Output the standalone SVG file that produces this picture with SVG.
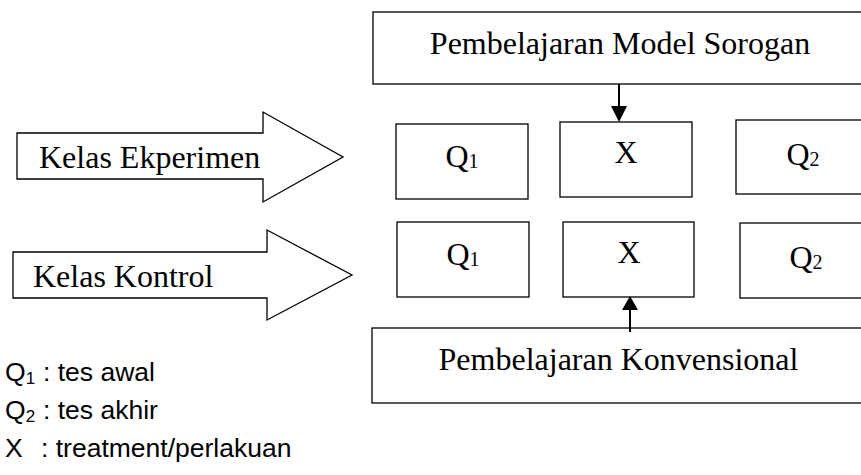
<svg xmlns="http://www.w3.org/2000/svg" width="861" height="475" viewBox="0 0 861 475">
  <style>
    .box { fill: #fff; stroke: #000; stroke-width: 1.3; }
    .blk { fill: #fff; stroke: #000; stroke-width: 1.3; stroke-linejoin: miter; }
    .serif { font-family: "Liberation Serif", "Times New Roman", serif; font-size: 32px; fill: #000; }
    .sub { font-size: 20px; }
    .sans { font-family: "Liberation Sans", Arial, sans-serif; font-size: 26.5px; fill: #000; }
    .lsub { font-size: 17px; }
    .conn { stroke: #000; stroke-width: 2; fill: none; }
    .head { fill: #000; stroke: none; }
  </style>
  <rect width="861" height="475" fill="#fff"/>

  <g id="sorogan">
    <rect class="box" x="373" y="12" width="500" height="72"/>
    <text class="serif" x="620" y="54" text-anchor="middle">Pembelajaran Model Sorogan</text>
  </g>
  <g id="konvensional">
    <rect class="box" x="372" y="328" width="500" height="75"/>
    <text class="serif" x="618.5" y="370" text-anchor="middle">Pembelajaran Konvensional</text>
  </g>

  <g id="kelas-eksperimen">
    <polygon class="blk" points="17,133 263,133 263,112 343,157 263,202 263,179 17,179"/>
    <text class="serif" x="39" y="168">Kelas Ekperimen</text>
  </g>
  <g id="kelas-kontrol">
    <polygon class="blk" points="13,252 267,252 267,230 352,275 267,320 267,298 13,298"/>
    <text class="serif" x="33" y="287">Kelas Kontrol</text>
  </g>

  <g id="e-q1">
    <rect class="box" x="396" y="124" width="132" height="75"/>
    <text class="serif" x="462" y="167" text-anchor="middle">Q<tspan class="sub" dy="1">1</tspan></text>
  </g>
  <g id="e-x">
    <rect class="box" x="560" y="122" width="132" height="75"/>
    <text class="serif" x="626" y="163" text-anchor="middle">X</text>
  </g>
  <g id="e-q2">
    <rect class="box" x="736" y="120" width="140" height="74"/>
    <text class="serif" x="803" y="165" text-anchor="middle">Q<tspan class="sub" dy="1">2</tspan></text>
  </g>

  <g id="k-q1">
    <rect class="box" x="397" y="222" width="132" height="75"/>
    <text class="serif" x="463" y="265" text-anchor="middle">Q<tspan class="sub" dy="1">1</tspan></text>
  </g>
  <g id="k-x">
    <rect class="box" x="563" y="222" width="131" height="75"/>
    <text class="serif" x="629" y="263" text-anchor="middle">X</text>
  </g>
  <g id="k-q2">
    <rect class="box" x="740" y="223" width="140" height="75"/>
    <text class="serif" x="806" y="268" text-anchor="middle">Q<tspan class="sub" dy="1">2</tspan></text>
  </g>

  <g id="connectors">
    <line class="conn" x1="619" y1="84" x2="619" y2="108"/>
    <polygon class="head" points="611,106 627,106 619,122"/>
    <line class="conn" x1="630" y1="332" x2="630" y2="308"/>
    <polygon class="head" points="622,310 638,310 630,296"/>
  </g>

  <g id="legend">
    <text class="sans" x="5" y="381">Q<tspan class="lsub" dy="3">1</tspan><tspan x="43" dy="-3">: tes awal</tspan></text>
    <text class="sans" x="5" y="419">Q<tspan class="lsub" dy="3">2</tspan><tspan x="43" dy="-3">: tes akhir</tspan></text>
    <text class="sans" x="5" y="457">X<tspan x="41">: treatment/perlakuan</tspan></text>
  </g>
</svg>
